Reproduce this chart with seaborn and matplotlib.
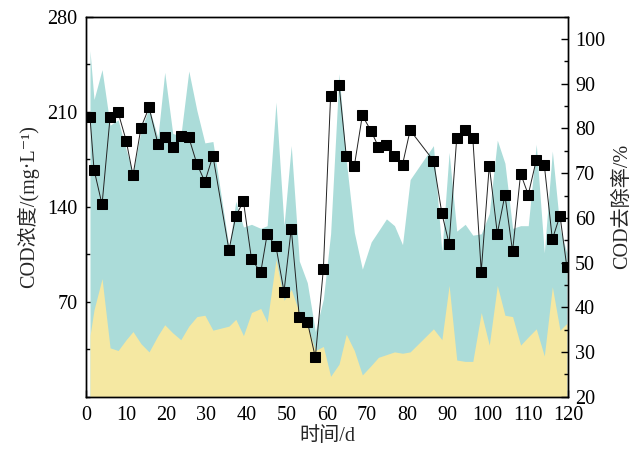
import matplotlib
matplotlib.use('Agg')
import matplotlib.pyplot as plt
from matplotlib.ticker import MultipleLocator
import seaborn as sns

sns.set_theme(style="ticks")
plt.rcParams['font.family'] = ['Liberation Serif', 'Noto Sans CJK SC', 'DejaVu Sans']
plt.rcParams['axes.unicode_minus'] = False

# sampling days
days = [1, 2, 4, 6, 8, 10, 11.7, 13.7, 15.7, 17.9, 19.6, 21.6, 23.6, 25.6, 27.6,
        29.6, 31.6, 35.6, 37.3, 39.2, 41.2, 43.5, 45.1, 47.3, 49.3, 51.1, 53.1,
        55.1, 57.1, 59.1, 60.9, 63, 64.8, 66.8, 68.8, 71, 72.8, 74.8, 76.8, 78.8,
        80.7, 86.5, 88.6, 90.4, 92.3, 94.4, 96.3, 98.4, 100.4, 102.4, 104.3,
        106.2, 108.2, 110.1, 112.1, 114.1, 116.1, 118, 119.7]

# influent COD (mg/L)
cod_in = [255, 219, 241, 200, 204, 182, 165, 196, 213, 191, 239, 194, 192, 240, 211,
          187, 188, 110, 144, 125, 127, 124, 126, 217, 126, 185, 100,
          84, 48, 72, 120, 238, 174, 121, 94, 114, 122, 131, 126, 112,
          160, 185, 107, 180, 122, 127, 119, 120, 135, 189, 172,
          124, 126, 126, 186, 106, 181, 124, 106]

# effluent COD (mg/L)
cod_out = [45, 64, 87, 36, 34, 42, 48, 39, 33, 45, 53, 47, 42, 52, 59,
           60, 49, 52, 57, 45, 62, 65, 55, 101, 71, 79, 62,
           53, 34, 37, 15, 24, 46, 34, 16, 23, 29, 31, 33, 32,
           33, 50, 42, 82, 27, 26, 26, 62, 38, 82, 60,
           59, 38, 44, 50, 30, 81, 49, 54]

# COD removal rate (%)
removal = [82.5, 70.8, 63.0, 82.5, 83.6, 77.3, 69.5, 80.2, 84.7, 76.6, 78.0, 75.8, 78.2, 78.0, 72.1,
           68.1, 73.9, 52.8, 60.4, 63.7, 50.8, 47.8, 56.3, 53.6, 43.5, 57.6, 37.9,
           36.8, 28.8, 48.6, 87.3, 89.8, 73.8, 71.6, 82.9, 79.4, 75.9, 76.2, 73.8, 71.9,
           79.6, 72.8, 61.0, 54.2, 77.9, 79.6, 77.9, 48.0, 71.7, 56.5, 65.1,
           52.5, 69.9, 65.2, 72.9, 71.8, 55.2, 60.5, 49.1]

fig, ax = plt.subplots(figsize=(6.35, 4.57), dpi=100)
fig.subplots_adjust(left=0.1354, right=0.8945, top=0.9635, bottom=0.132)

ax.fill_between(days, 0, cod_in, color='#abdcd9', linewidth=0)
ax.fill_between(days, 0, cod_out, color='#f5e8a2', linewidth=0)

ax.set_xlim(0, 120)
ax.set_ylim(0, 280)
ax.xaxis.set_major_locator(MultipleLocator(10))
ax.set_yticks([70, 140, 210, 280])
ax.yaxis.set_minor_locator(MultipleLocator(35))
ax.set_xlabel('时间/d', fontsize=14.5, labelpad=1)
ax.set_ylabel('COD浓度/(mg·L⁻¹)', fontsize=14.5, labelpad=6)

ax2 = ax.twinx()
sns.lineplot(x=days, y=removal, ax=ax2, color='#222222', linewidth=0.7,
             marker='s', markersize=7, markerfacecolor='black',
             markeredgecolor='black', sort=False)
ax2.set_ylim(20, 105)
ax2.yaxis.set_major_locator(MultipleLocator(10))
ax2.yaxis.set_minor_locator(MultipleLocator(5))
ax2.set_ylabel('COD去除率/%', fontsize=14.5, labelpad=6)

for a in (ax, ax2):
    a.tick_params(axis='both', which='both', direction='in', labelsize=14.5,
                  colors='black', width=1.0)
    a.tick_params(which='major', length=5)
    a.tick_params(which='minor', length=3)
    for s in a.spines.values():
        s.set_color('black')
        s.set_linewidth(1.0)
ax.tick_params(axis='y', which='both', right=False, pad=6)
ax.tick_params(axis='x', pad=7)
ax2.tick_params(axis='y', which='both', left=False, pad=5)

plt.savefig('out.png', dpi=100)
plt.close()
